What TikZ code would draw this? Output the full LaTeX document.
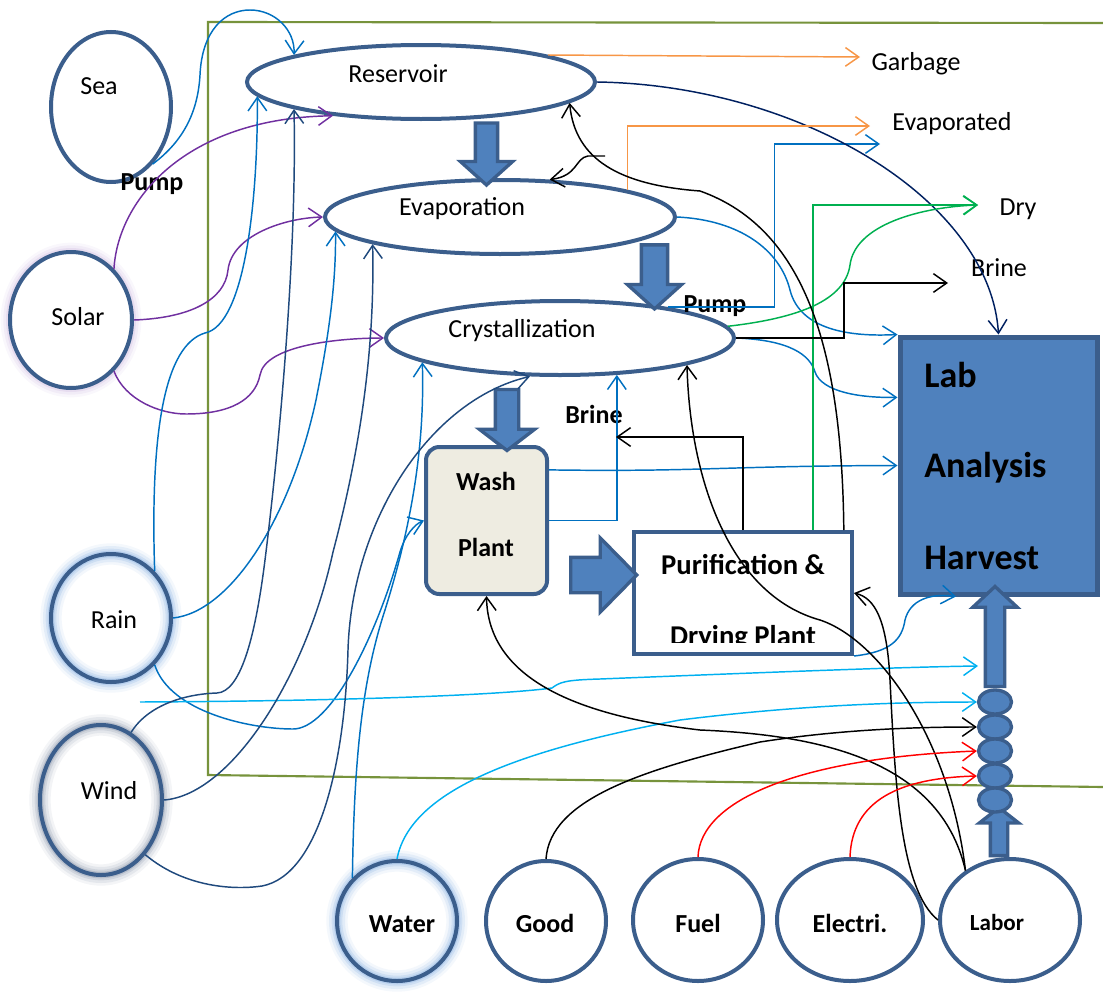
\documentclass[tikz,border=0pt]{standalone}
\usepackage{fontspec}
\setmainfont{Carlito}
\usetikzlibrary{shapes.geometric,shapes.arrows,arrows.meta}
\definecolor{bord}{HTML}{3B5E8C}
\definecolor{lbf}{HTML}{4F81BD}
\definecolor{washf}{HTML}{EEECE1}
\definecolor{frm}{HTML}{77933C}
\definecolor{mblue}{HTML}{0070C0}
\definecolor{navy}{HTML}{002060}
\definecolor{wblue}{HTML}{1F497D}
\definecolor{cyanl}{HTML}{00B0F0}
\definecolor{orng}{HTML}{F79646}
\definecolor{purp}{HTML}{7030A0}
\definecolor{grn}{HTML}{00B050}
\definecolor{redc}{HTML}{FF0000}
\definecolor{glowb}{HTML}{6FA0DC}
\definecolor{glowp}{HTML}{B89BD3}
\definecolor{glowg}{HTML}{5E6F8C}
\tikzset{
 ell/.style={ellipse, draw=bord, line width=3pt, inner sep=0pt, fill=white},
 glowB/.style={fill=none, preaction={fill=white},
   preaction={draw=glowb, line width=16pt, draw opacity=0.08},
   preaction={draw=glowb, line width=12pt, draw opacity=0.12},
   preaction={draw=glowb, line width=8pt, draw opacity=0.18},
   preaction={draw=glowb, line width=5pt, draw opacity=0.25}},
 glowP/.style={
   preaction={draw=glowp, line width=14pt, draw opacity=0.08},
   preaction={draw=glowp, line width=10pt, draw opacity=0.12},
   preaction={draw=glowp, line width=6pt, draw opacity=0.18}},
 glowG/.style={fill=none, preaction={fill=white},
   preaction={draw=glowg, line width=16pt, draw opacity=0.07},
   preaction={draw=glowg, line width=12pt, draw opacity=0.1},
   preaction={draw=glowg, line width=8pt, draw opacity=0.15},
   preaction={draw=glowg, line width=5pt, draw opacity=0.22}},
 chain/.style={ellipse, draw=bord, line width=2.5pt, fill=lbf, inner sep=0pt, minimum width=24.75pt, minimum height=18pt},
 con/.style={line width=1.1pt, -{Straight Barb[length=10pt,width=14pt]}},
 blk/.style={single arrow, draw=bord, fill=lbf, line width=2.5pt, inner xsep=0pt},
 lbl/.style={font=\fontsize{19.5}{23}\selectfont, inner sep=0pt, anchor=base},
 blbl/.style={lbl, font=\fontsize{19.5}{23}\selectfont\bfseries},
 labt/.style={font=\fontsize{27}{31}\selectfont\bfseries, inner sep=0pt, anchor=base west},
 purt/.style={font=\fontsize{21.5}{25}\selectfont\bfseries, inner sep=0pt, anchor=base},
}
\begin{document}
\begin{tikzpicture}[x=0.75pt,y=-0.75pt]
\useasboundingbox (0,0) rectangle (1103,992);
% frame
\draw[frm, line width=1.6pt] (1103,23) -- (208,22) -- (208,775) -- (1103,787);

% round nodes
\node[ell, minimum width=90pt, minimum height=112.5pt] (sea) at (111,107) {};
\node[ell, glowP, minimum width=91.5pt, minimum height=102pt] (solar) at (71,320) {};
\node[ell, glowB, minimum width=90pt, minimum height=96pt] (rain) at (111,618) {};
\node[ell, glowG, minimum width=91.5pt, minimum height=112.5pt] (wind) at (101,800) {};
\node[ell, glowB, minimum width=90pt, minimum height=90pt] (water) at (397,921) {};
\node[ell, minimum width=90pt, minimum height=90pt] (good) at (546,921) {};
\node[ell, minimum width=97.5pt, minimum height=91.5pt] (fuel) at (698,920) {};
\node[ell, minimum width=109.5pt, minimum height=91.5pt] (elec) at (850,920) {};
\node[ell, minimum width=105pt, minimum height=91.5pt] (labor) at (1010,920) {};
\node[ell, minimum width=261pt, minimum height=55.5pt] (res) at (421,82) {};
\node[ell, minimum width=262.5pt, minimum height=55.5pt] (evap) at (500,217) {};
\node[ell, minimum width=261pt, minimum height=55.5pt] (cryst) at (560,338) {};

% boxes
\node[draw=bord, fill=washf, line width=3pt, rounded corners=10pt, inner sep=0pt, minimum width=90.75pt, minimum height=110.25pt] (wash) at (486.5,520.5) {};
\node[draw=bord, fill=white, line width=3pt, inner sep=0pt, minimum width=163.5pt, minimum height=91.5pt] (pur) at (743,593) {};
\node[draw=bord, fill=lbf, line width=3.75pt, inner sep=0pt, minimum width=147.75pt, minimum height=192.75pt] (lab) at (998.5,465.5) {};

% block arrows
\node[blk, rotate=-90, minimum height=46.5pt, inner ysep=7.1pt, single arrow head extend=11.25pt, single arrow tip angle=96] (a1) at (486.5,149) {};
\node[blk, rotate=-90, minimum height=48pt, inner ysep=8.6pt, single arrow head extend=10.5pt, single arrow tip angle=96] (a2) at (654.5,271) {};
\node[blk, rotate=-90, minimum height=45.75pt, inner ysep=7.5pt, single arrow head extend=12pt, single arrow tip angle=105] (a3) at (507,415.5) {};
\node[blk, minimum height=49.5pt, inner ysep=12pt, single arrow head extend=14.6pt, single arrow tip angle=91] (a4) at (595,575) {};
\node[blk, rotate=90, minimum height=75pt, inner ysep=6pt, single arrow head extend=9.4pt, single arrow tip angle=94] (a5) at (995,641) {};
\node[blk, rotate=90, minimum height=36pt, inner ysep=5.25pt, single arrow head extend=8.25pt, single arrow tip angle=104] (a6) at (999,835) {};

% chain
\node[chain] (ch1) at (995,702) {};
\node[chain] (ch2) at (995,727) {};
\node[chain] (ch3) at (995,751) {};
\node[chain] (ch4) at (995,776) {};
\node[chain] (ch5) at (995,800) {};

% labels
\node[lbl] (tsea) at (99,94) {Sea};
\node[lbl] (tsolar) at (78,325) {Solar};
\node[lbl] (train) at (114,628) {Rain};
\node[lbl] (twind) at (109,799) {Wind};
\node[blbl] (twater) at (402,932) {Water};
\node[blbl] (tgood) at (545,932) {Good};
\node[blbl] (tfuel) at (698,932) {Fuel};
\node[blbl] (telec) at (850,932) {Electri.};
\node[blbl, font=\fontsize{17.3}{20}\selectfont\bfseries] (tlabor) at (997,930) {Labor};
\node[lbl] (tres) at (398,82) {Reservoir};
\node[lbl] (tevap) at (462,215) {Evaporation};
\node[lbl] (tcryst) at (522,337) {Crystallization};
\node[lbl] (tgarb) at (916,70) {Garbage};
\node[lbl] (tevapd) at (952,130) {Evaporated};
\node[lbl] (tdry) at (1018,215) {Dry};
\node[lbl] (tbrine) at (999,276) {Brine};
\node[blbl] (tpump1) at (152,190) {Pump};
\node[blbl] (tpump2) at (715,312) {Pump};
\node[blbl] (tbrine2) at (594,423) {Brine};
\node[blbl] (twash) at (486,490.6) {Wash};
\node[blbl] (tplant) at (486,556) {Plant};
\node[labt] (tlab) at (924,387) {Lab};
\node[labt] (tanal) at (924,477) {Analysis};
\node[labt] (tharv) at (924,569) {Harvest};
\node[purt] (tpur1) at (743,574) {Purification \&};
\begin{scope}
\clip (634,532) rectangle (852,642);
\node[purt] (tpur2) at (743,645) {Drying Plant};
\end{scope}

% free ends
\coordinate (evapd) at (880,144);
\coordinate (dryd) at (978,205);
\coordinate (brined) at (948,283);
\coordinate (brinep) at (616,437);
\coordinate (garbd) at (860,57);
\coordinate (evapod) at (870,126);
\coordinate (k6s) at (605,156);
\coordinate (c1s) at (140,702);
\coordinate (c1e) at (978,666);

% purple (solar)
\draw[con, purp] (solar.50) .. controls (118,200) and (185,118) .. (res.201);
\draw[con, purp] (solar.0) .. controls (190,318) and (225,300) .. (228,270) .. controls (232,235) and (285,218) .. (evap.180);
\draw[con, purp] (solar.-50) .. controls (125,400) and (160,414) .. (186,414) .. controls (230,414) and (255,400) .. (260,375) .. controls (265,345) and (340,338) .. (cryst.180);

% sea loop
\draw[con, mblue] (sea.-54) .. controls (185,140) and (198,110) .. (200,75) .. controls (202,30) and (225,10) .. (250,10) .. controls (275,10) and (295,30) .. (res.168);

% rain
\draw[con, mblue] (rain.47) .. controls (150,430) and (165,345) .. (205,333) .. controls (245,325) and (258,200) .. (res.185);
\draw[con, mblue] (rain.0) .. controls (230,612) and (290,520) .. (316,400) .. controls (330,330) and (336,280) .. (evap.185);
\draw[con, mblue] (rain.-47) .. controls (170,712) and (250,729) .. (293,729) .. controls (330,729) and (375,640) .. (400,552) .. controls (405,535) and (415,524) .. (wash.180);

% water
\draw[con, mblue] (water.136) .. controls (354,760) and (362,680) .. (385,610) .. controls (410,530) and (425,450) .. (cryst.190);
\draw[con, cyanl] (water.90) .. controls (410,790) and (520,750) .. (680,720) .. controls (800,705) and (900,702) .. (ch1.180);
\draw[con, cyanl] (c1s) .. controls (350,701) and (500,695) .. (552,688) .. controls (560,682) and (565,680) .. (600,679) .. controls (750,673) and (900,667) .. (c1e);

% wind
\draw[con, wblue] (wind.66) .. controls (148,705) and (185,694) .. (217,693) .. controls (240,692) and (255,640) .. (265,560) .. controls (280,440) and (297,250) .. (res.192);
\draw[con, wblue] (wind.0) .. controls (230,795) and (305,680) .. (333,552) .. controls (360,450) and (375,350) .. (evap.192);
\draw[con, wblue] (wind.-51) .. controls (185,888) and (235,890) .. (262,886) .. controls (320,875) and (345,760) .. (348,650) .. controls (352,520) and (430,400) .. (cryst.232);

% process outputs
\draw[con, mblue] (evap.0) .. controls (740,220) and (780,250) .. (790,290) .. controls (800,330) and (850,337) .. (lab.north west);
\draw[con, mblue] (cryst.0) .. controls (790,340) and (810,355) .. (815,372) .. controls (822,392) and (860,398) .. (lab.146);
\draw[con, mblue] (cryst.16) -- ++(107,0) |- (evapd);
\draw[con, mblue] (wash.39) .. controls (700,472) and (720,466) .. (lab.180);
\draw[con, mblue] (wash.0) -| (cryst.-33);
\draw[con, mblue] (pur.south east) .. controls (890,652) and (902,640) .. (905,620) .. controls (910,600) and (930,593) .. (lab.252);
\draw[con, navy] (res.0) .. controls (800,85) and (990,200) .. (lab.90);
\draw[con, orng] (res.12) -- (garbd);
\draw[con, orng] (evap.12) |- (evapod);
\draw[con, grn] (pur.42) |- (dryd);
\draw[con, grn] (cryst.4) .. controls (800,318) and (845,300) .. (850,265) .. controls (855,225) and (920,207) .. (dryd);
\draw[con, black] (cryst.0) -- ++(108,0) |- (brined);
\draw[con, black] (pur.90) |- (brinep);
\draw[con, black] (k6s) -- (588,156) .. controls (575,158) and (578,176) .. (evap.37);
\draw[con, black] (pur.32) .. controls (842,360) and (810,230) .. (700,191) .. controls (620,185) and (575,160) .. (res.-8);

% labor and supplies
\draw[con, black] (labor.132) .. controls (950,740) and (880,640) .. (820,620) .. controls (730,595) and (690,480) .. (cryst.-12);
\draw[con, black] (labor.132) .. controls (940,760) and (820,735) .. (700,730) .. controls (580,716) and (488,680) .. (wash.south);
\draw[con, black] (labor.180) .. controls (900,890) and (895,780) .. (890,680) .. controls (887,620) and (875,598) .. (pur.0);
\draw[con, black] (good.90) .. controls (550,800) and (640,770) .. (760,742) .. controls (850,728) and (930,727) .. (ch2.180);
\draw[con, redc] (fuel.90) .. controls (700,800) and (800,758) .. (ch3.180);
\draw[con, redc] (elec.90) .. controls (852,800) and (900,778) .. (ch4.180);
\end{tikzpicture}
\end{document}
